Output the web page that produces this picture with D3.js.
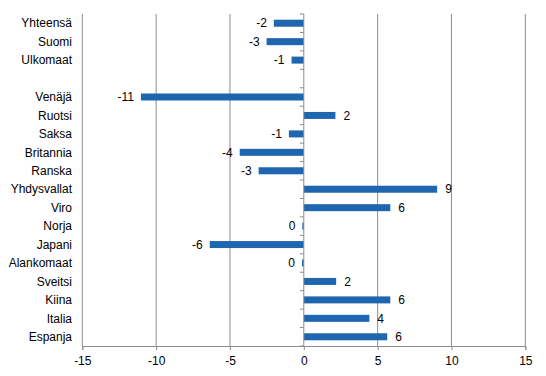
<!DOCTYPE html>
<html>
<head>
<meta charset="utf-8">
<script src="https://cdn.jsdelivr.net/npm/d3@7"></script>
<style>
  body { margin: 0; background: #fff; }
  text { font-family: "Liberation Sans", Arial, sans-serif; font-size: 12px; fill: #000; }
</style>
</head>
<body>
<div id="chart"></div>
<script>
const width = 546;
const height = 376;

// categories top to bottom; "" is the empty gap row
const categories = [
  "Yhteensä", "Suomi", "Ulkomaat", "",
  "Venäjä", "Ruotsi", "Saksa", "Britannia", "Ranska", "Yhdysvallat",
  "Viro", "Norja", "Japani", "Alankomaat", "Sveitsi", "Kiina", "Italia", "Espanja",
];
const values = [
  -2.03, -2.52, -0.83, null,
  -11.03, 2.14, -1.01, -4.34, -3.06, 9.03,
  5.86, -0.1, -6.37, -0.12, 2.19, 5.86, 4.44, 5.65,
];
const xTicks = [-15, -10, -5, 0, 5, 10, 15];

const barColor = "#1f66b0";
const gridColor = "#8c8c8c";

const svg = d3.select("#chart").append("svg")
  .attr("width", width)
  .attr("height", height);

const x = d3.scaleLinear().domain([-15, 15]).range([82.3, 525.3]);
const y = d3.scaleBand().domain(categories.map((c, i) => i)).range([14, 346]);

// vertical gridlines
svg.append("g").selectAll("line")
  .data(xTicks.filter(t => t !== 0))
  .join("line")
  .attr("x1", d => x(d)).attr("x2", d => x(d))
  .attr("y1", y.range()[0]).attr("y2", y.range()[1])
  .attr("stroke", gridColor).attr("stroke-width", 1);

// bars
const rows = categories.map((c, i) => ({ c, i, v: values[i] })).filter(d => d.v !== null);
const barH = 7;

svg.append("g").selectAll("rect")
  .data(rows)
  .join("rect")
  .attr("x", d => x(Math.min(0, d.v)))
  .attr("width", d => Math.max(1.5, Math.abs(x(d.v) - x(0))))
  .attr("y", d => y(d.i) + y.bandwidth() / 2 - barH / 2)
  .attr("height", barH)
  .attr("fill", barColor);

// value labels
svg.append("g").selectAll("text")
  .data(rows)
  .join("text")
  .attr("x", d => d.v < 0 ? x(d.v) - 7 : x(d.v) + 8)
  .attr("y", d => y(d.i) + y.bandwidth() / 2)
  .attr("dy", "0.35em")
  .attr("text-anchor", d => d.v < 0 ? "end" : "start")
  .text(d => String(Math.round(d.v)));

// category labels
svg.append("g").selectAll("text")
  .data(categories.map((c, i) => ({ c, i })))
  .join("text")
  .attr("x", 72)
  .attr("y", d => y(d.i) + y.bandwidth() / 2)
  .attr("dy", "0.35em")
  .attr("text-anchor", "end")
  .text(d => d.c);

// zero axis with ticks at band edges
const yAxis = svg.append("g").attr("stroke", gridColor).attr("stroke-width", 1);
yAxis.append("line")
  .attr("x1", x(0)).attr("x2", x(0))
  .attr("y1", y.range()[0]).attr("y2", y.range()[1]);
yAxis.selectAll("line.tick")
  .data(d3.range(categories.length + 1))
  .join("line")
  .attr("class", "tick")
  .attr("x1", x(0) - 4).attr("x2", x(0))
  .attr("y1", i => y.range()[0] + i * y.step())
  .attr("y2", i => y.range()[0] + i * y.step());

// bottom axis
const xAxis = svg.append("g")
  .attr("transform", `translate(0,${y.range()[1]})`)
  .call(d3.axisBottom(x).tickValues(xTicks).tickSize(4).tickPadding(6).tickFormat(d3.format("d")));
xAxis.select(".domain").attr("stroke", gridColor);
xAxis.selectAll(".tick line").attr("stroke", gridColor);
xAxis.selectAll(".tick text")
  .attr("font-family", null).attr("font-size", null)
  .text(d => String(d));
</script>
</body>
</html>
